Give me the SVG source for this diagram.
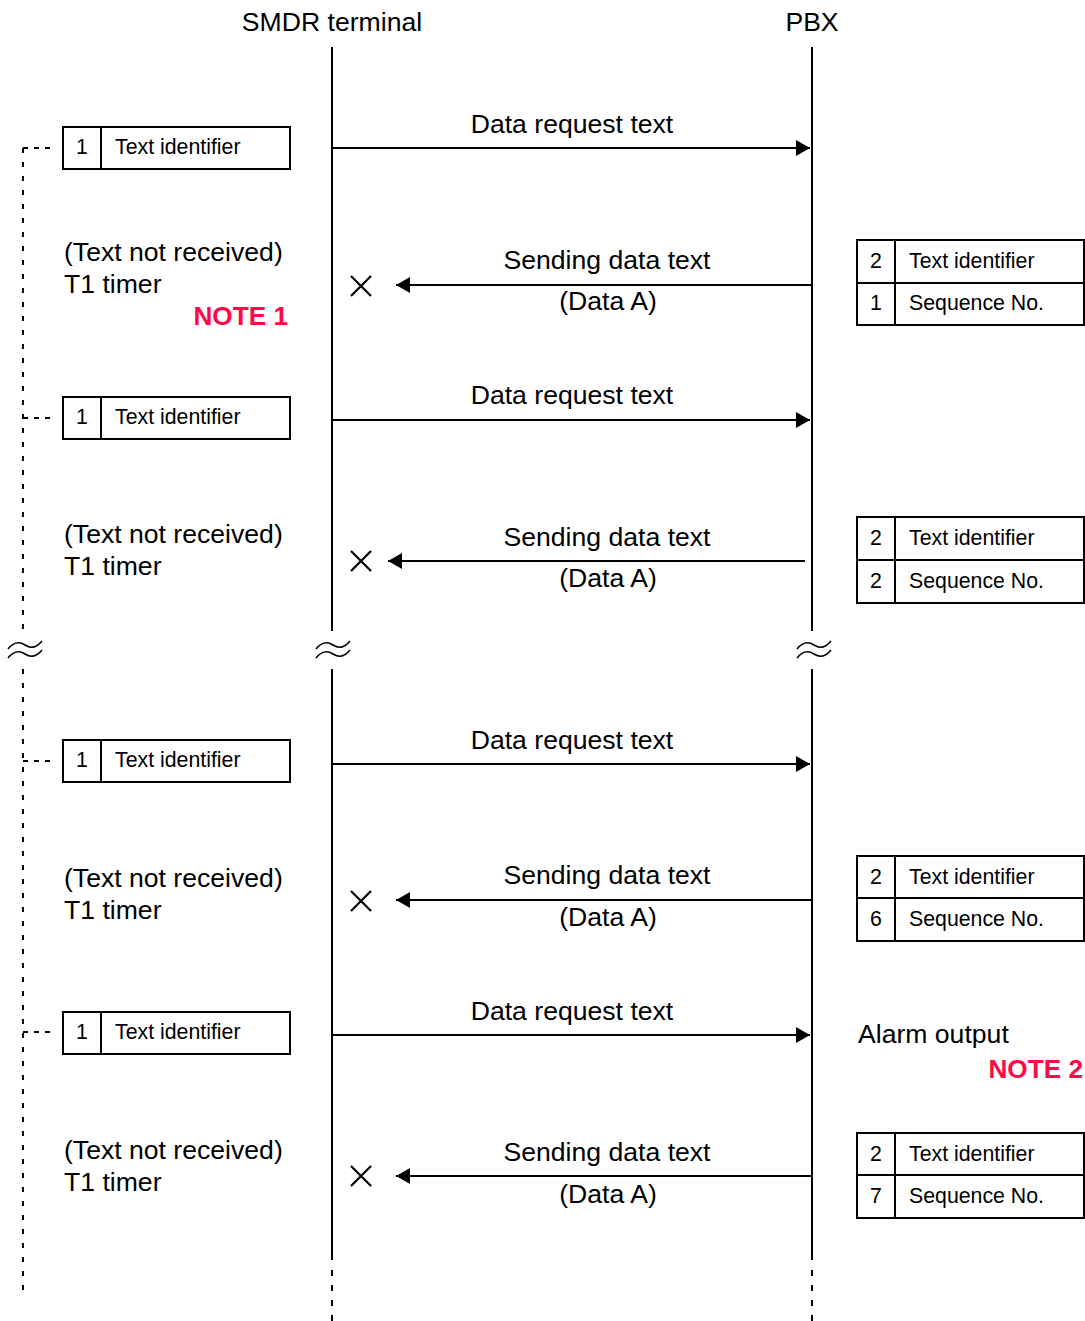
<svg xmlns="http://www.w3.org/2000/svg" width="1085" height="1321" viewBox="0 0 1085 1321">
  <style>
    text { font-family: "Liberation Sans", Arial, sans-serif; fill: #000; }
    .lg { font-size: 26.6px; }
    .sm { font-size: 21.3px; }
    .mid { text-anchor: middle; }
    .note { font-size: 26.2px; font-weight: bold; fill: #ff0a46; text-anchor: end; }
    .life { stroke: #000; stroke-width: 2; fill: none; }
    .lifedash { stroke: #000; stroke-width: 2; fill: none; stroke-dasharray: 6 9; }
    .guide { stroke: #000; stroke-width: 2; fill: none; stroke-dasharray: 5 9; }
    .stub { stroke: #000; stroke-width: 2; fill: none; stroke-dasharray: 5 6; }
    .msg { stroke: #000; stroke-width: 2; fill: none; marker-end: url(#head); }
    .box { fill: #fff; stroke: #000; stroke-width: 2; }
    .cell { stroke: #000; stroke-width: 2; }
    .lost { stroke: #000; stroke-width: 2.2; fill: none; }
    .brk { stroke: #000; stroke-width: 1.6; fill: none; }
  </style>
  <defs>
    <marker id="head" markerUnits="userSpaceOnUse" markerWidth="14" markerHeight="16" refX="14" refY="8" orient="auto">
      <path d="M0,0 L14,8 L0,16 Z" fill="#000"/>
    </marker>
    <path id="wave" d="M-17,4 Q-9,-6 0,0 T17,-4"/>
    <g id="approx">
      <use href="#wave" y="-4"/>
      <use href="#wave" y="5"/>
    </g>
    <path id="cross" d="M-10,-10 L10,10 M-10,10 L10,-10"/>
  </defs>

  <!-- lifeline headers -->
  <g id="smdr-header">
    <text class="lg mid" x="332" y="31">SMDR terminal</text>
  </g>
  <g id="pbx-header">
    <text class="lg mid" x="812" y="31">PBX</text>
  </g>

  <!-- lifelines, timer guide and breaks -->
  <g id="lifelines">
    <line class="life" x1="332" y1="47" x2="332" y2="631"/>
    <line class="life" x1="332" y1="669" x2="332" y2="1260"/>
    <line class="lifedash" x1="332" y1="1270" x2="332" y2="1321"/>
    <line class="life" x1="812" y1="47" x2="812" y2="631"/>
    <line class="life" x1="812" y1="669" x2="812" y2="1260"/>
    <line class="lifedash" x1="812" y1="1270" x2="812" y2="1321"/>
    <line class="guide" x1="23" y1="148" x2="23" y2="631"/>
    <line class="guide" x1="23" y1="669" x2="23" y2="1293"/>
    <g class="brk">
      <use href="#approx" x="25" y="649"/>
      <use href="#approx" x="333" y="649"/>
      <use href="#approx" x="814" y="649"/>
    </g>
  </g>

  <!-- connectors -->
  <g id="connectors">
    <line class="stub" x1="23" y1="148" x2="56" y2="148"/>
    <line class="stub" x1="23" y1="418" x2="56" y2="418"/>
    <line class="stub" x1="23" y1="761" x2="56" y2="761"/>
    <line class="stub" x1="23" y1="1032" x2="56" y2="1032"/>

    <line class="msg" x1="333" y1="148" x2="810" y2="148"/>
    <line class="msg" x1="812" y1="285" x2="396" y2="285"/>
    <line class="msg" x1="333" y1="420" x2="810" y2="420"/>
    <line class="msg" x1="805" y1="561" x2="388" y2="561"/>
    <line class="msg" x1="333" y1="764" x2="810" y2="764"/>
    <line class="msg" x1="812" y1="900" x2="396" y2="900"/>
    <line class="msg" x1="333" y1="1035" x2="810" y2="1035"/>
    <line class="msg" x1="812" y1="1176" x2="396" y2="1176"/>

    <g class="lost">
      <use href="#cross" x="361" y="286"/>
      <use href="#cross" x="361" y="561"/>
      <use href="#cross" x="361" y="901"/>
      <use href="#cross" x="361" y="1176"/>
    </g>
  </g>

  <!-- message labels -->
  <g id="labels" class="lg">
    <text class="mid" x="572" y="133">Data request text</text>
    <text class="mid" x="607" y="269">Sending data text</text>
    <text class="mid" x="608" y="310">(Data A)</text>
    <text class="mid" x="572" y="404">Data request text</text>
    <text class="mid" x="607" y="546">Sending data text</text>
    <text class="mid" x="608" y="587">(Data A)</text>
    <text class="mid" x="572" y="749">Data request text</text>
    <text class="mid" x="607" y="884">Sending data text</text>
    <text class="mid" x="608" y="926">(Data A)</text>
    <text class="mid" x="572" y="1020">Data request text</text>
    <text class="mid" x="607" y="1161">Sending data text</text>
    <text class="mid" x="608" y="1203">(Data A)</text>
  </g>

  <!-- timer notes on the terminal side -->
  <g id="timer-1">
    <text class="lg" x="64" y="261">(Text not received)</text>
    <text class="lg" x="64" y="293">T1 timer</text>
    <text class="note" x="288" y="325">NOTE 1</text>
  </g>
  <g id="timer-2">
    <text class="lg" x="64" y="543">(Text not received)</text>
    <text class="lg" x="64" y="575">T1 timer</text>
  </g>
  <g id="timer-3">
    <text class="lg" x="64" y="887">(Text not received)</text>
    <text class="lg" x="64" y="919">T1 timer</text>
  </g>
  <g id="timer-4">
    <text class="lg" x="64" y="1159">(Text not received)</text>
    <text class="lg" x="64" y="1191">T1 timer</text>
  </g>
  <g id="alarm">
    <text class="lg" x="858" y="1043">Alarm output</text>
    <text class="note" x="1083" y="1078">NOTE 2</text>
  </g>

  <!-- request frames -->
  <g id="req-frame-1">
    <rect class="box" x="63" y="127" width="227" height="42"/>
    <line class="cell" x1="101" y1="127" x2="101" y2="169"/>
    <text class="sm mid" x="82" y="154">1</text>
    <text class="sm" x="115" y="154">Text identifier</text>
  </g>
  <g id="req-frame-2">
    <rect class="box" x="63" y="397" width="227" height="42"/>
    <line class="cell" x1="101" y1="397" x2="101" y2="439"/>
    <text class="sm mid" x="82" y="424">1</text>
    <text class="sm" x="115" y="424">Text identifier</text>
  </g>
  <g id="req-frame-3">
    <rect class="box" x="63" y="740" width="227" height="42"/>
    <line class="cell" x1="101" y1="740" x2="101" y2="782"/>
    <text class="sm mid" x="82" y="767">1</text>
    <text class="sm" x="115" y="767">Text identifier</text>
  </g>
  <g id="req-frame-4">
    <rect class="box" x="63" y="1012" width="227" height="42"/>
    <line class="cell" x1="101" y1="1012" x2="101" y2="1054"/>
    <text class="sm mid" x="82" y="1039">1</text>
    <text class="sm" x="115" y="1039">Text identifier</text>
  </g>

  <!-- data frames -->
  <g id="data-frame-1">
    <rect class="box" x="857" y="240" width="227" height="85"/>
    <line class="cell" x1="857" y1="283" x2="1084" y2="283"/>
    <line class="cell" x1="895" y1="240" x2="895" y2="325"/>
    <text class="sm mid" x="876" y="267.5">2</text>
    <text class="sm" x="909" y="267.5">Text identifier</text>
    <text class="sm mid" x="876" y="309.5">1</text>
    <text class="sm" x="909" y="309.5">Sequence No.</text>
  </g>
  <g id="data-frame-2">
    <rect class="box" x="857" y="517" width="227" height="86"/>
    <line class="cell" x1="857" y1="560" x2="1084" y2="560"/>
    <line class="cell" x1="895" y1="517" x2="895" y2="603"/>
    <text class="sm mid" x="876" y="544.5">2</text>
    <text class="sm" x="909" y="544.5">Text identifier</text>
    <text class="sm mid" x="876" y="587.5">2</text>
    <text class="sm" x="909" y="587.5">Sequence No.</text>
  </g>
  <g id="data-frame-3">
    <rect class="box" x="857" y="856" width="227" height="85"/>
    <line class="cell" x1="857" y1="898" x2="1084" y2="898"/>
    <line class="cell" x1="895" y1="856" x2="895" y2="941"/>
    <text class="sm mid" x="876" y="883.5">2</text>
    <text class="sm" x="909" y="883.5">Text identifier</text>
    <text class="sm mid" x="876" y="925.5">6</text>
    <text class="sm" x="909" y="925.5">Sequence No.</text>
  </g>
  <g id="data-frame-4">
    <rect class="box" x="857" y="1133" width="227" height="85"/>
    <line class="cell" x1="857" y1="1175" x2="1084" y2="1175"/>
    <line class="cell" x1="895" y1="1133" x2="895" y2="1218"/>
    <text class="sm mid" x="876" y="1160.5">2</text>
    <text class="sm" x="909" y="1160.5">Text identifier</text>
    <text class="sm mid" x="876" y="1202.5">7</text>
    <text class="sm" x="909" y="1202.5">Sequence No.</text>
  </g>
</svg>
